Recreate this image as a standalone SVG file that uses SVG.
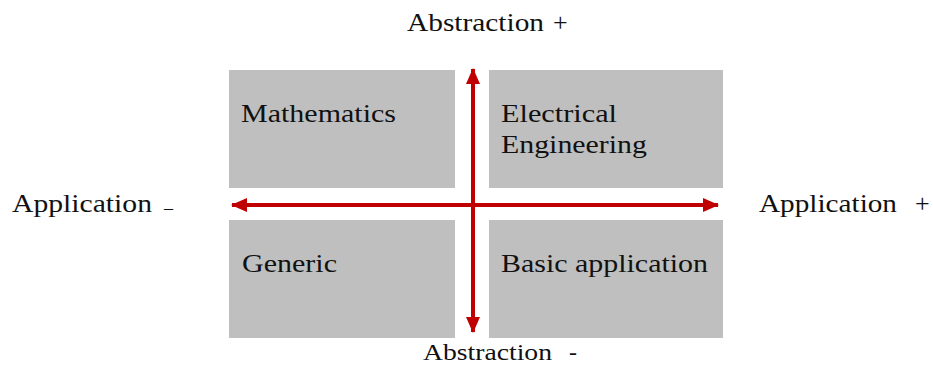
<svg xmlns="http://www.w3.org/2000/svg" width="933" height="365" viewBox="0 0 933 365">
<style>
.box{fill:#bfbfbf}
.t{font-family:"Liberation Serif","Times New Roman",serif;font-size:26px;fill:#111}
.ax{stroke:#c00000;stroke-width:4;fill:none}
</style>
<defs>
<marker id="ah" viewBox="0 0 16 14" refX="15" refY="7" markerWidth="16" markerHeight="14" markerUnits="userSpaceOnUse" orient="auto-start-reverse">
<path d="M0,0 L16,7 L0,14 Z" fill="#c00000"/>
</marker>
</defs>
<rect width="933" height="365" fill="#fff"/>
<g id="mathematics">
<rect class="box" x="229" y="70" width="226" height="118"/>
<text class="t" x="241" y="122" textLength="155" lengthAdjust="spacingAndGlyphs">Mathematics</text>
</g>
<g id="electrical-engineering">
<rect class="box" x="489" y="70" width="234" height="118"/>
<text class="t" x="501" y="122" textLength="116" lengthAdjust="spacingAndGlyphs">Electrical</text>
<text class="t" x="501" y="153" textLength="146" lengthAdjust="spacingAndGlyphs">Engineering</text>
</g>
<g id="generic">
<rect class="box" x="229" y="220" width="226" height="118"/>
<text class="t" x="242" y="272" textLength="95" lengthAdjust="spacingAndGlyphs">Generic</text>
</g>
<g id="basic-application">
<rect class="box" x="489" y="220" width="234" height="118"/>
<text class="t" x="501" y="272" textLength="207" lengthAdjust="spacingAndGlyphs">Basic application</text>
</g>
<g id="connectors">
<line class="ax" x1="232" y1="205" x2="718" y2="205" marker-start="url(#ah)" marker-end="url(#ah)"/>
<line class="ax" x1="473" y1="69" x2="473" y2="332" marker-start="url(#ah)" marker-end="url(#ah)"/>
</g>
<g id="labels">
<text class="t" x="407" y="31" textLength="137" lengthAdjust="spacingAndGlyphs">Abstraction</text>
<text class="t" x="553" y="31">+</text>
<text class="t" x="423" y="360" style="font-size:24px" textLength="129" lengthAdjust="spacingAndGlyphs">Abstraction</text>
<text class="t" x="569" y="360" style="font-size:24px">-</text>
<text class="t" x="12" y="212" textLength="140" lengthAdjust="spacingAndGlyphs">Application</text>
<text class="t" x="164" y="214" style="font-size:18px">–</text>
<text class="t" x="759" y="212" textLength="138" lengthAdjust="spacingAndGlyphs">Application</text>
<text class="t" x="915" y="212">+</text>
</g>
</svg>
